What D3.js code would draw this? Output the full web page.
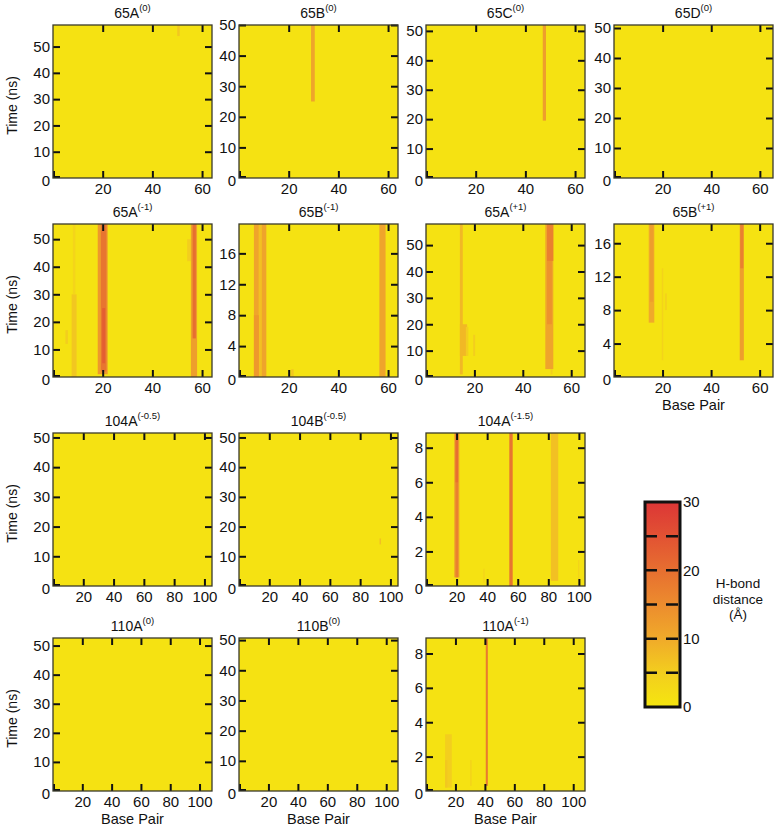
<!DOCTYPE html>
<html lang="en">
<head>
<script src="https://d3js.org/d3.v7.min.js"></script>
<style>
  body { margin: 0; background: #fff; }
  text { font-family: "Liberation Sans", Arial, sans-serif; fill: #111; }
  .tick line { stroke: #111; stroke-width: 2; }
</style>
</head>
<body>
<svg id="chart" width="777" height="827"></svg>
<script>
// panel names and the superscript state of each
const names  = ["65A", "65B", "65C", "65D", "65A", "65B", "65A", "65B", "104A", "104B", "104A", "110A", "110B", "110A"];
const states = ["(0)", "(0)", "(0)", "(0)", "(-1)", "(-1)", "(+1)", "(+1)", "(-0.5)", "(-0.5)", "(-1.5)", "(0)", "(0)", "(-1)"];

// axis extents
const bpMax   = [64, 64, 64, 65.4, 64, 64, 65.7, 65.5, 105, 105, 104, 108.5, 108, 108];
const timeMax = [58.2, 50, 52, 51, 55.5, 19.8, 58, 18.3, 51.5, 51.5, 8.85, 52.6, 50.7, 8.9];

const ticks10 = [10, 20, 30, 40, 50];
const ticks4  = [4, 8, 12, 16];
const ticks2  = [2, 4, 6, 8];
const timeTicks = [ticks10, ticks10, ticks10, ticks10, ticks10, ticks4, ticks10, ticks4,
                   ticks10, ticks10, ticks2, ticks10, ticks10, ticks2];
const bp65 = [20, 40, 60];
const bp100 = [20, 40, 60, 80, 100];
const bpTicks = [bp65, bp65, bp65, bp65, bp65, bp65, bp65, bp65, bp100, bp100, bp100, bp100, bp100, bp100];

// background H-bond distance (A) in every panel
const bgDist = 0.9;

// broken base pair stripes: [bpStart, bpEnd, tStart, tEnd, distance]
const stripes = [
  [[50, 51, 54, 58.2, 6]],
  [[29, 30.5, 25, 50, 11]],
  [[47, 48.3, 19.5, 52, 12]],
  [],
  [[7.5, 9.5, 0, 30, 6], [8, 9, 30, 55.5, 3.5], [5, 6, 12, 17, 5],
   [18, 22, 1, 55.5, 13], [19.3, 21.5, 2, 55.5, 19], [19.8, 21, 5, 25, 23],
   [54, 55.5, 42, 50, 5], [55.5, 58, 0, 55.5, 12], [56.2, 57.5, 14, 55.5, 20]],
  [[6, 8, 0, 19.8, 11], [9, 11, 0, 19.8, 11], [8, 9, 0, 19.8, 7], [6, 8, 0, 8, 13],
   [56.5, 59, 0, 19.8, 11], [21, 22, 0, 1, 6]],
  [[14, 15.2, 1, 58, 8], [14, 17, 8, 20, 8], [16.5, 17.5, 8, 19, 5], [19.5, 20.3, 8, 16, 5],
   [49.3, 52.6, 3, 58, 11], [50, 52, 20, 44, 14], [50, 52.6, 44, 58, 17], [51.5, 52.3, 1, 3, 5]],
  [[14.3, 16.6, 6.5, 18.3, 10], [14.8, 16.2, 9, 18.3, 12], [19.7, 20.3, 2, 13, 4],
   [21, 21.8, 8, 10, 4], [51.8, 53.5, 2, 18.3, 12], [52, 53.3, 13, 18.3, 17]],
  [],
  [[92.8, 93.8, 14, 16, 7]],
  [[18.5, 21.8, 0.5, 8.85, 12], [19.3, 21, 0.5, 8.85, 17], [19.3, 21, 6, 8.85, 20],
   [54.5, 56.7, 0, 8.85, 19], [81.7, 86.5, 0.3, 8.85, 7], [37.5, 38.3, 0.2, 1, 4],
   [99.5, 100.3, 0.1, 1.5, 4]],
  [],
  [],
  [[40.6, 42, 0.3, 8.9, 18], [13, 17.5, 0.2, 3.3, 5], [13, 14.5, 0.2, 1.8, 6], [30, 31, 0.3, 1.8, 4]]
];

// colour bar
const cbValues = [0, 5, 10, 15, 20, 25, 30];
const cbColors = ["#f5e60f", "#f3ce1e", "#f0aa2a", "#ec8c2e", "#e76f30", "#e25233", "#dc3636"];
const cbDashes = [5, 10, 15, 20, 25];
const cbLabels = [0, 10, 20, 30];
const cbTitle = ["H-bond", "distance"];

const xLabelPanels = [7, 11, 12, 13];

const svg = d3.select("#chart");
const color = d3.scaleLinear().domain(cbValues).range(cbColors);

// grid layout
const colLeft = [53, 239, 426, 614];
const rowTop = [25, 224, 433, 638];
const pw = 159, ph = 153;
const panelCol = [0, 1, 2, 3, 0, 1, 2, 3, 0, 1, 2, 0, 1, 2];
const panelRow = [0, 0, 0, 0, 1, 1, 1, 1, 2, 2, 2, 3, 3, 3];

names.forEach((name, i) => {
  const left = colLeft[panelCol[i]];
  const top = rowTop[panelRow[i]];
  const x = d3.scaleLinear().domain([0, bpMax[i]]).range([left, left + pw]);
  const y = d3.scaleLinear().domain([0, timeMax[i]]).range([top + ph, top]);

  const g = svg.append("g");
  g.append("clipPath").attr("id", "clip" + i)
    .append("rect").attr("x", left).attr("y", top).attr("width", pw).attr("height", ph);

  const heat = g.append("g").attr("clip-path", `url(#clip${i})`);
  heat.append("rect")
    .attr("x", x(0)).attr("y", y(timeMax[i]))
    .attr("width", x(bpMax[i]) - x(0)).attr("height", y(0) - y(timeMax[i]))
    .attr("fill", color(bgDist));

  heat.selectAll("rect.stripe")
    .data(stripes[i])
    .join("rect")
    .attr("class", "stripe")
    .attr("x", d => x(d[0]))
    .attr("width", d => x(d[1]) - x(d[0]))
    .attr("y", d => y(d[3]))
    .attr("height", d => y(d[2]) - y(d[3]))
    .attr("fill", d => color(d[4]));

  // inward ticks on all four sides
  const axB = g.append("g").attr("transform", `translate(0,${top + ph})`)
    .call(d3.axisBottom(x).tickValues(bpTicks[i]).tickSizeInner(-7).tickSizeOuter(0).tickPadding(5));
  const axT = g.append("g").attr("transform", `translate(0,${top})`)
    .call(d3.axisTop(x).tickValues(bpTicks[i]).tickSizeInner(-7).tickSizeOuter(0).tickFormat(""));
  const axL = g.append("g").attr("transform", `translate(${left},0)`)
    .call(d3.axisLeft(y).tickValues(timeTicks[i]).tickSizeInner(-7).tickSizeOuter(0).tickPadding(3));
  const axR = g.append("g").attr("transform", `translate(${left + pw},0)`)
    .call(d3.axisRight(y).tickValues(timeTicks[i]).tickSizeInner(-7).tickSizeOuter(0).tickFormat(""));
  [axB, axT, axL, axR].forEach(a => {
    a.select(".domain").remove();
    a.selectAll("text").attr("font-size", 15).attr("fill", "#111")
      .attr("font-family", "Liberation Sans, Arial, sans-serif");
  });

  // little corner mark and shared zero label
  g.append("path")
    .attr("d", `M${left + 1},${top + ph - 7}V${top + ph - 1}H${left + 7}`)
    .attr("fill", "none").attr("stroke", "#111").attr("stroke-width", 2);
  g.append("text")
    .attr("x", left - 3).attr("y", top + ph - 3)
    .attr("dy", "0.71em").attr("text-anchor", "end")
    .attr("font-size", 15).text("0");

  g.append("rect")
    .attr("x", left).attr("y", top).attr("width", pw).attr("height", ph)
    .attr("fill", "none").attr("stroke", "#3a3a2a").attr("stroke-width", 1.3);

  const title = g.append("text")
    .attr("x", left + pw / 2).attr("y", top - 7)
    .attr("text-anchor", "middle").attr("font-size", 14);
  title.append("tspan").text(name);
  title.append("tspan").attr("dy", -7).attr("font-size", 9.5).text(states[i]);

  if (xLabelPanels.includes(i)) {
    g.append("text")
      .attr("x", left + pw / 2).attr("y", top + ph + 33)
      .attr("text-anchor", "middle").attr("font-size", 14.5).text("Base Pair");
  }
});

rowTop.forEach(t => {
  svg.append("text")
    .attr("transform", `translate(17,${t + ph / 2 + 4}) rotate(-90)`)
    .attr("text-anchor", "middle").attr("font-size", 14).text("Time (ns)");
});

// colour bar legend
const cbX = 645, cbW = 35;
const cbY = d3.scaleLinear().domain([0, 30]).range([707, 502]);

const grad = svg.append("defs").append("linearGradient")
  .attr("id", "cbGrad").attr("x1", 0).attr("y1", 1).attr("x2", 0).attr("y2", 0);
grad.selectAll("stop").data(cbValues).join("stop")
  .attr("offset", d => d / 30)
  .attr("stop-color", d => color(d));

svg.append("rect")
  .attr("x", cbX).attr("y", cbY(30)).attr("width", cbW).attr("height", cbY(0) - cbY(30))
  .attr("fill", "url(#cbGrad)");

svg.selectAll("line.cbdash").data(cbDashes).join("line")
  .attr("class", "cbdash")
  .attr("x1", cbX).attr("x2", cbX + cbW)
  .attr("y1", d => cbY(d)).attr("y2", d => cbY(d))
  .attr("stroke", "#111").attr("stroke-width", 2.5)
  .attr("stroke-dasharray", "12,9");

svg.append("rect")
  .attr("x", cbX).attr("y", cbY(30)).attr("width", cbW).attr("height", cbY(0) - cbY(30))
  .attr("fill", "none").attr("stroke", "#111").attr("stroke-width", 3);

svg.selectAll("text.cblab").data(cbLabels).join("text")
  .attr("class", "cblab")
  .attr("x", cbX + cbW + 3).attr("y", d => cbY(d))
  .attr("dy", "0.36em").attr("font-size", 15)
  .text(d => d);

svg.selectAll("text.cbtitle").data(cbTitle).join("text")
  .attr("class", "cbtitle")
  .attr("x", 738).attr("y", (d, k) => 588 + k * 15.5)
  .attr("text-anchor", "middle").attr("font-size", 13.5)
  .text(d => d);
svg.append("text").attr("x", 738).attr("y", 619)
  .attr("text-anchor", "middle").attr("font-size", 13.5)
  .attr("font-family", "Liberation Serif, Times New Roman, serif").text("(Å)");
</script>
</body>
</html>
